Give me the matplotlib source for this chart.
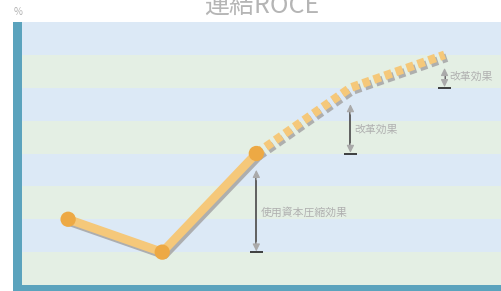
import matplotlib
matplotlib.use("Agg")
import matplotlib.pyplot as plt
import matplotlib.patheffects as pe
from matplotlib.patches import Rectangle

plt.rcParams['font.family'] = ['Noto Sans CJK JP', 'DejaVu Sans']

# ---- data ----
title = "連結ROCE"
unit = "%"
periods = [0, 1, 2, 3, 4]
roce_actual = [2.0, 1.0, 4.0]          # solid segment
roce_plan_x = [2, 3, 4]
roce_plan = [4.0, 6.0, 7.0]            # dashed projection
arrow_x = [2, 3, 4]
arrow_from = [1.0, 4.0, 6.0]
arrow_to = [3.5, 5.5, 6.6]
arrow_labels = ["使用資本圧縮効果", "改革効果", "改革効果"]
label_y = [2.22, 4.71, 6.33]
band_edges = [0, 1, 2, 3, 4, 5, 6, 7, 8]

W, H = 501, 291
fig = plt.figure(figsize=(W / 100, H / 100), dpi=100)
fig.patch.set_facecolor('white')

ax = fig.add_axes([22 / W, 6 / H, 479 / W, 263 / H])
ax.set_xlim(-0.49, 4.6)
ax.set_ylim(0, 8)
ax.axis('off')

# bands
for i in range(len(band_edges) - 1):
    col = '#e4efe4' if i % 2 == 0 else '#dce9f6'
    ax.axhspan(band_edges[i], band_edges[i + 1], color=col, lw=0, zorder=0)

# spines as figure rectangles
fig.patches.append(Rectangle((13 / W, 0), 9 / W, 269 / H, transform=fig.transFigure,
                             color='#5ba3bd', lw=0, zorder=5))
fig.patches.append(Rectangle((13 / W, 0), (W - 13) / W, 6 / H, transform=fig.transFigure,
                             color='#5ba3bd', lw=0, zorder=5))

shadow = [pe.SimpleLineShadow(offset=(1.6, -2.0), shadow_color='#a8a8a8', alpha=0.9), pe.Normal()]

line_col = '#f5c87a'
marker_col = '#eda944'

# dashed projection
ax.plot(roce_plan_x, roce_plan, color=line_col, lw=6.2, dashes=(0.85, 0.5),
        solid_capstyle='butt', dash_capstyle='butt', zorder=3, path_effects=shadow)

# solid line
ax.plot(periods[:3], roce_actual, color=line_col, lw=6.2, solid_capstyle='round',
        solid_joinstyle='round', zorder=4, path_effects=shadow)
ax.plot(periods[:3], roce_actual, linestyle='none', marker='o', ms=11,
        markerfacecolor=marker_col, markeredgewidth=0, zorder=5, path_effects=shadow)

# arrows
for x, y0, y1, lab, ly in zip(arrow_x, arrow_from, arrow_to, arrow_labels, label_y):
    ax.plot([x, x], [y0 + 0.15, y1 - 0.15], color='#555555', lw=1.3, zorder=6)
    ax.annotate('', xy=(x, y1), xytext=(x, y1 - 0.3),
                arrowprops=dict(arrowstyle='-|>,head_length=0.45,head_width=0.22',
                                color='#aaaaaa', lw=0.8, shrinkA=0, shrinkB=0), zorder=6)
    ax.annotate('', xy=(x, y0 + 0.02), xytext=(x, y0 + 0.3),
                arrowprops=dict(arrowstyle='-|>,head_length=0.45,head_width=0.22',
                                color='#aaaaaa', lw=0.8, shrinkA=0, shrinkB=0), zorder=6)
    ax.plot([x - 0.07, x + 0.07], [y0, y0], color='#222222', lw=1.2, zorder=6,
            solid_capstyle='butt')
    ax.text(x + 0.045, ly, lab, fontsize=7.8, color='#b0b0b0', va='center', ha='left', zorder=7)

fig.text(261.5 / W, 1 - 12.5 / H, title, fontsize=18, color='#b5b5b5', ha='center', va='baseline')
fig.text(14 / W, 1 - 15 / H, unit, fontsize=7, color='#b0b0b0', ha='left', va='baseline')

fig.savefig('out.png', dpi=100)
